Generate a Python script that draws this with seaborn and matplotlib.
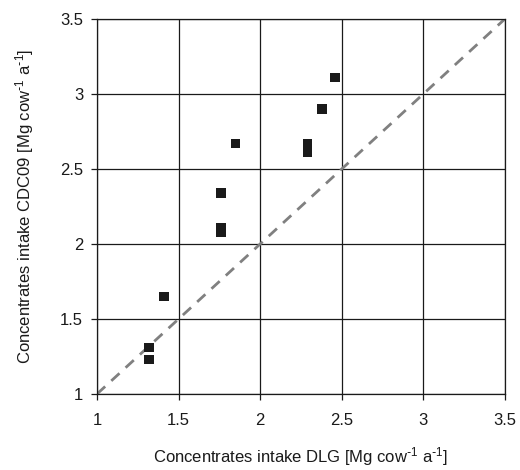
import matplotlib
matplotlib.use("Agg")
import matplotlib.pyplot as plt
import seaborn as sns
import pandas as pd

dlg = [2.46, 2.38, 1.85, 2.29, 2.29, 1.76, 1.76, 1.76, 1.41, 1.32, 1.32]
cdc09 = [3.11, 2.90, 2.67, 2.67, 2.61, 2.34, 2.11, 2.08, 1.65, 1.31, 1.23]
ticks = [1, 1.5, 2, 2.5, 3, 3.5]
tick_labels = ["1", "1.5", "2", "2.5", "3", "3.5"]

sns.set_style("white")
plt.rcParams['font.family'] = ['Liberation Sans', 'DejaVu Sans']
plt.rcParams['mathtext.default'] = 'regular'

df = pd.DataFrame({"DLG": dlg, "CDC09": cdc09})

fig = plt.figure(figsize=(5.2, 4.7), dpi=100)
ax = fig.add_axes([0.1865, 0.1617, 0.7845, 0.798])

ax.grid(True, color="#1a1a1a", linewidth=0.9)
ax.set_axisbelow(True)

ax.plot([ticks[0], ticks[-1]], [ticks[0], ticks[-1]], linestyle=(0, (4, 3)),
        color="#808080", linewidth=2, zorder=2)

sns.scatterplot(data=df, x="DLG", y="CDC09", marker="s", s=48, color="#1a1a1a",
                edgecolor="none", ax=ax, zorder=3)

ax.set_xlim(1, 3.5)
ax.set_ylim(1, 3.5)
ax.set_xticks(ticks)
ax.set_xticklabels(tick_labels)
ax.set_yticks(ticks)
ax.set_yticklabels(tick_labels)
ax.tick_params(axis="both", labelsize=12, length=4, width=0.9, color="#1a1a1a",
               labelcolor="#1a1a1a", direction="out", bottom=True, left=True)
ax.tick_params(axis="x", pad=10)
ax.tick_params(axis="y", pad=6)
for s in ax.spines.values():
    s.set_color("#1a1a1a")
    s.set_linewidth(0.9)

ax.set_xlabel(r"Concentrates intake DLG [Mg cow$^{\text{-}1}$ a$^{\text{-}1}$]",
              fontsize=12, labelpad=12, color="#1a1a1a")
ax.set_ylabel(r"Concentrates intake CDC09 [Mg cow$^{\text{-}1}$ a$^{\text{-}1}$]",
              fontsize=12, labelpad=17, color="#1a1a1a")

fig.savefig("out.png", dpi=100)
